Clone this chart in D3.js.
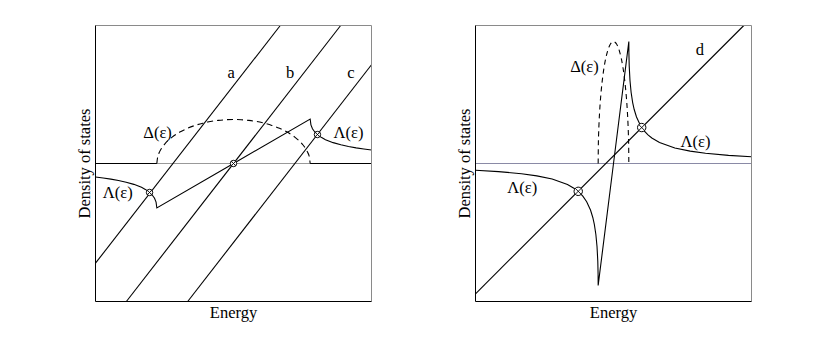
<!DOCTYPE html>
<html>
<head>
<meta charset="utf-8">
<script src="https://cdn.jsdelivr.net/npm/d3@7"></script>
<style>
body{margin:0;background:#fff}
svg{display:block}
text{font-family:"Liberation Serif","Times New Roman",serif;font-size:16.5px;fill:#000}
</style>
</head>
<body>
<svg id="chart" width="830" height="339"></svg>
<script>
// ---- left panel: wide band (half width = 1) ----
const deltaLeftE = [-1,-0.99,-0.97,-0.95,-0.9,-0.8,-0.7,-0.6,-0.5,-0.4,-0.3,-0.2,-0.1,0,0.1,0.2,0.3,0.4,0.5,0.6,0.7,0.8,0.9,0.95,0.97,0.99,1];
const deltaLeftV = [0,0.081,0.140,0.179,0.250,0.344,0.410,0.459,0.497,0.526,0.548,0.562,0.571,0.574,0.571,0.562,0.548,0.526,0.497,0.459,0.410,0.344,0.250,0.179,0.140,0.081,0];
const lambdaLeftE = [-1.8,-1.7,-1.6,-1.5,-1.4,-1.3,-1.2,-1.15,-1.1,-1.06,-1.03,-1.01,-1,0,1,1.01,1.03,1.06,1.1,1.15,1.2,1.3,1.4,1.5,1.6,1.7,1.8];
const lambdaLeftV = [-0.176,-0.189,-0.204,-0.222,-0.244,-0.272,-0.311,-0.338,-0.372,-0.411,-0.454,-0.504,-0.58,0,0.58,0.504,0.454,0.411,0.372,0.338,0.311,0.272,0.244,0.222,0.204,0.189,0.176];
const lineA = [[-1.8,-1.30],[0.61,1.8]];
const lineB = [[-1.3975,-1.8],[1.3975,1.8]];
const lineC = [[-0.5975,-1.8],[1.8,1.288]];
const markersLeft = [[-1.095,-0.378],[0,0],[1.095,0.378]];

// ---- right panel: narrow band (half width = 0.2) ----
const deltaRightE = [-0.2,-0.198,-0.194,-0.19,-0.18,-0.16,-0.14,-0.12,-0.1,-0.08,-0.06,-0.04,-0.02,0,0.02,0.04,0.06,0.08,0.1,0.12,0.14,0.16,0.18,0.19,0.194,0.198,0.2];
const deltaRightV = [0,0.224,0.387,0.496,0.693,0.954,1.135,1.272,1.377,1.457,1.517,1.558,1.582,1.59,1.582,1.558,1.517,1.457,1.377,1.272,1.135,0.954,0.693,0.496,0.387,0.224,0];
const lambdaRightE = [-1.8,-1.5,-1.2,-1,-0.8,-0.6,-0.5,-0.45,-0.4,-0.35,-0.3,-0.27,-0.25,-0.23,-0.215,-0.205,-0.201,-0.2,0,0.2,0.201,0.205,0.215,0.23,0.25,0.27,0.3,0.35,0.4,0.45,0.5,0.6,0.8,1,1.2,1.5,1.8];
const lambdaRightV = [-0.089,-0.106,-0.133,-0.161,-0.202,-0.273,-0.332,-0.373,-0.426,-0.499,-0.607,-0.704,-0.795,-0.926,-1.082,-1.272,-1.439,-1.59,0,1.59,1.439,1.272,1.082,0.926,0.795,0.704,0.607,0.499,0.426,0.373,0.332,0.273,0.202,0.161,0.133,0.106,0.089];
const lineD = [[-1.8,-1.70],[1.70,1.8]];
const markersRight = [[-0.46,-0.363],[0.368,0.469]];

const W = 276, H = 276;
const x = d3.scaleLinear().domain([-1.8,1.8]).range([0,W]);
const y = d3.scaleLinear().domain([-1.8,1.8]).range([H,0]);
const svg = d3.select('#chart');
svg.append('rect').attr('width',830).attr('height',339).attr('fill','#fff');

const zip = (e,v) => e.map((d,i) => [d, v[i]]);
const line = d3.line().x(d => x(d[0])).y(d => y(d[1]));
const smooth = d3.line().x(d => x(d[0])).y(d => y(d[1])).curve(d3.curveMonotoneX);

function panel(left, id, opts){
  const g = svg.append('g').attr('transform',`translate(${left},25.5)`);
  g.append('clipPath').attr('id',id).append('rect').attr('width',W).attr('height',H);
  const c = g.append('g').attr('clip-path',`url(#${id})`);

  // zero line
  c.append('line').attr('x1',0).attr('x2',W).attr('y1',y(0)).attr('y2',y(0))
    .attr('stroke',opts.zeroColor).attr('stroke-width',1);
  // Delta = 0 outside the band
  if(opts.solidZero){
    c.append('path').attr('d',line([[-1.8,0],[opts.delta[0][0],0]])).attr('stroke','#000').attr('fill','none').attr('stroke-width',1.1);
    c.append('path').attr('d',line([[opts.delta[opts.delta.length-1][0],0],[1.8,0]])).attr('stroke','#000').attr('fill','none').attr('stroke-width',1.1);
  }
  // Delta(e), dashed
  c.append('path').attr('d',smooth(opts.delta)).attr('fill','none')
    .attr('stroke','#000').attr('stroke-width',1.1).attr('stroke-dasharray',opts.dash);
  // straight lines
  opts.lines.forEach(l => c.append('path').attr('d',line(l)).attr('fill','none')
    .attr('stroke','#000').attr('stroke-width',1.1));
  // Lambda(e)
  c.append('path').attr('d',line(opts.lambda)).attr('fill','none')
    .attr('stroke','#000').attr('stroke-width',1.1);
  // crossing markers
  opts.markers.forEach(m => {
    const mx = x(m[0]), my = y(m[1]), r = opts.r, k = r*0.7;
    c.append('circle').attr('cx',mx).attr('cy',my).attr('r',r).attr('fill','#fff').attr('stroke','#000').attr('stroke-width',1);
    c.append('path').attr('d',`M${mx-k},${my-k}L${mx+k},${my+k}M${mx-k},${my+k}L${mx+k},${my-k}`).attr('stroke','#000').attr('stroke-width',0.9);
  });

  // frame
  g.append('line').attr('x1',0).attr('x2',W).attr('y1',0).attr('y2',0).attr('stroke','#8a8a8a');
  g.append('line').attr('x1',W).attr('x2',W).attr('y1',0).attr('y2',H).attr('stroke','#8a8a8a');
  g.append('line').attr('x1',0).attr('x2',0).attr('y1',0).attr('y2',H).attr('stroke','#000');
  g.append('line').attr('x1',0).attr('x2',W).attr('y1',H).attr('y2',H).attr('stroke','#000');

  // labels
  opts.labels.forEach(t => g.append('text').attr('x',x(t[1])).attr('y',y(t[2]))
    .attr('text-anchor','middle').text(t[0]));
  g.append('text').attr('x',W/2).attr('y',H+16).attr('text-anchor','middle').text('Energy');
  g.append('text').attr('transform',`translate(-6,${H/2}) rotate(-90)`)
    .attr('text-anchor','middle').text('Density of states');
}

panel(95.5,'clipL',{
  zeroColor:'#999', solidZero:true, dash:'6,4', r:3.2,
  delta: zip(deltaLeftE,deltaLeftV),
  lambda: zip(lambdaLeftE,lambdaLeftV),
  lines:[lineA,lineB,lineC],
  markers: markersLeft,
  labels:[['a',-0.03,1.12],['b',0.74,1.12],['c',1.53,1.12],
          ['\u0394(\u03b5)',-0.99,0.33],['\u039b(\u03b5)',1.50,0.33],['\u039b(\u03b5)',-1.51,-0.456]]
});

panel(475.5,'clipR',{
  zeroColor:'#8a8aa6', solidZero:false, dash:'5,4', r:4.2,
  delta: zip(deltaRightE,deltaRightV),
  lambda: zip(lambdaRightE,lambdaRightV),
  lines:[lineD],
  markers: markersRight,
  labels:[['d',1.126,1.42],['\u0394(\u03b5)',-0.378,1.20],
          ['\u039b(\u03b5)',1.07,0.21],['\u039b(\u03b5)',-1.19,-0.39]]
});
</script>
</body>
</html>
